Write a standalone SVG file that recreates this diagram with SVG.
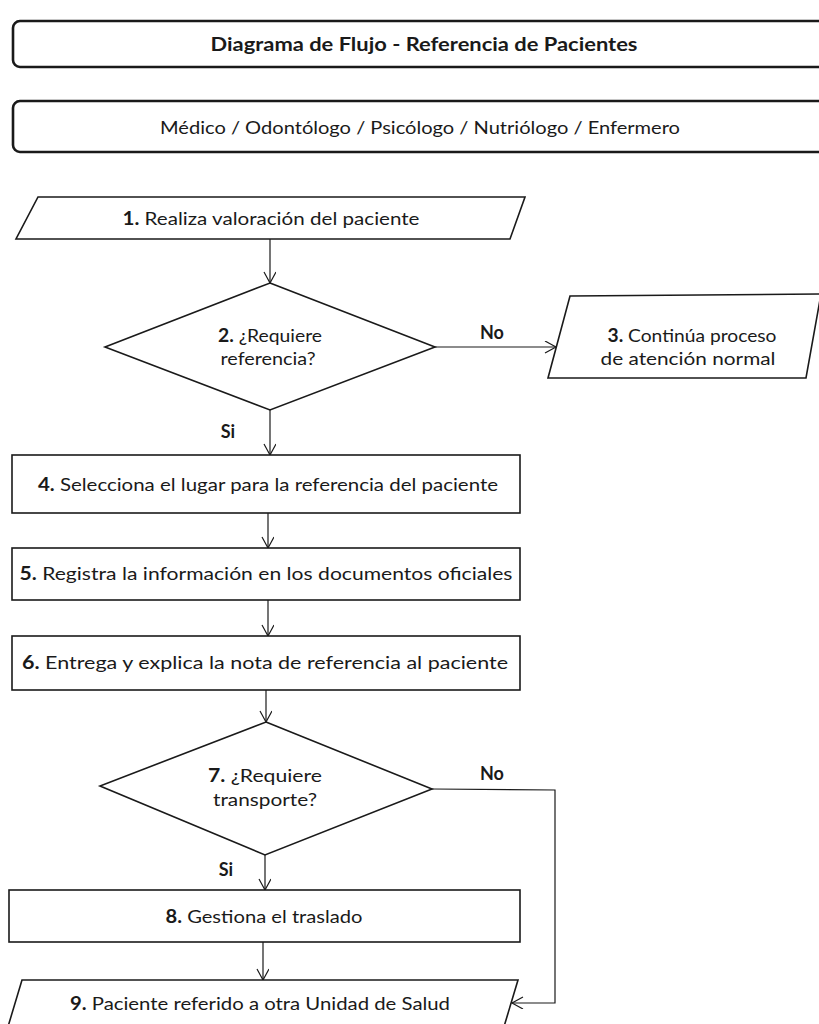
<svg xmlns="http://www.w3.org/2000/svg" width="819" height="1024" viewBox="0 0 819 1024">
<style>
.hdr{fill:#fff;stroke:#1a1a1a;stroke-width:2.6}
.box{fill:#fff;stroke:#1a1a1a;stroke-width:1.6}
.t{font-family:Lato,"Liberation Sans",sans-serif;font-size:18px;fill:#1a1a1a;text-anchor:middle}
.b{font-weight:bold}
.con{fill:none;stroke:#1a1a1a;stroke-width:1.2}
</style>
<defs>
<marker id="arr" markerUnits="userSpaceOnUse" markerWidth="14" markerHeight="14" refX="12" refY="6" orient="auto">
<path d="M1,0 L12,6 L1,12" fill="none" stroke="#1a1a1a" stroke-width="1.2"/>
</marker>
</defs>
<rect width="819" height="1024" fill="#fff"/>

<g id="title">
<rect class="hdr" x="13" y="21" width="830" height="46" rx="7"/>
<text class="t b" x="424" y="51" textLength="427" lengthAdjust="spacingAndGlyphs">Diagrama de Flujo - Referencia de Pacientes</text>
</g>
<g id="roles">
<rect class="hdr" x="13" y="101" width="830" height="51" rx="7"/>
<text class="t" x="420" y="134" textLength="520" lengthAdjust="spacingAndGlyphs">Médico / Odontólogo / Psicólogo / Nutriólogo / Enfermero</text>
</g>

<g id="connectors">
<line class="con" x1="270" y1="238" x2="270" y2="283" marker-end="url(#arr)"/>
<line class="con" x1="435" y1="347" x2="556" y2="347" marker-end="url(#arr)"/>
<line class="con" x1="270" y1="410" x2="270" y2="455" marker-end="url(#arr)"/>
<line class="con" x1="268" y1="513" x2="268" y2="548" marker-end="url(#arr)"/>
<line class="con" x1="268" y1="600" x2="268" y2="636" marker-end="url(#arr)"/>
<line class="con" x1="266" y1="690" x2="266" y2="722" marker-end="url(#arr)"/>
<line class="con" x1="265" y1="855" x2="265" y2="890" marker-end="url(#arr)"/>
<line class="con" x1="263" y1="942" x2="263" y2="980" marker-end="url(#arr)"/>
<polyline class="con" points="432,789 555,790 555,1003 512,1003" marker-end="url(#arr)"/>
<text class="t b" x="492" y="339">No</text>
<text class="t b" x="228" y="438">Si</text>
<text class="t b" x="492" y="780">No</text>
<text class="t b" x="226" y="876">Si</text>
</g>

<g id="n1">
<polygon class="box" points="38,197 525,197 510,239 16,239"/>
<text class="t" x="271" y="225" textLength="297" lengthAdjust="spacingAndGlyphs"><tspan class="b">1.</tspan> Realiza valoración del paciente</text>
</g>
<g id="n2">
<polygon class="box" points="270,283 435,347 270,410 105,347"/>
<text class="t" x="270" y="342" textLength="104" lengthAdjust="spacingAndGlyphs"><tspan class="b">2.</tspan> ¿Requiere</text>
<text class="t" x="268" y="365" textLength="95" lengthAdjust="spacingAndGlyphs">referencia?</text>
</g>
<g id="n3">
<polygon class="box" points="570,296 821,294 806,378 548,378"/>
<text class="t" x="692" y="342" textLength="169" lengthAdjust="spacingAndGlyphs"><tspan class="b">3.</tspan> Continúa proceso</text>
<text class="t" x="688" y="365" textLength="175" lengthAdjust="spacingAndGlyphs">de atención normal</text>
</g>
<g id="n4">
<rect class="box" x="12" y="455" width="508" height="58"/>
<text class="t" x="268" y="491" textLength="460" lengthAdjust="spacingAndGlyphs"><tspan class="b">4.</tspan> Selecciona el lugar para la referencia del paciente</text>
</g>
<g id="n5">
<rect class="box" x="12" y="548" width="508" height="52"/>
<text class="t" x="266" y="580" textLength="493" lengthAdjust="spacingAndGlyphs"><tspan class="b">5.</tspan> Registra la información en los documentos oficiales</text>
</g>
<g id="n6">
<rect class="box" x="12" y="636" width="508" height="54"/>
<text class="t" x="265" y="669" textLength="486" lengthAdjust="spacingAndGlyphs"><tspan class="b">6.</tspan> Entrega y explica la nota de referencia al paciente</text>
</g>
<g id="n7">
<polygon class="box" points="266,722 432,789 265,855 100,786"/>
<text class="t" x="265" y="782" textLength="114" lengthAdjust="spacingAndGlyphs"><tspan class="b">7.</tspan> ¿Requiere</text>
<text class="t" x="265" y="806" textLength="104" lengthAdjust="spacingAndGlyphs">transporte?</text>
</g>
<g id="n8">
<rect class="box" x="9" y="890" width="511" height="52"/>
<text class="t" x="264" y="923" textLength="197" lengthAdjust="spacingAndGlyphs"><tspan class="b">8.</tspan> Gestiona el traslado</text>
</g>
<g id="n9">
<polygon class="box" points="22,980 518,980 503,1030 7,1030"/>
<text class="t" x="260" y="1010" textLength="380" lengthAdjust="spacingAndGlyphs"><tspan class="b">9.</tspan> Paciente referido a otra Unidad de Salud</text>
</g>
</svg>
